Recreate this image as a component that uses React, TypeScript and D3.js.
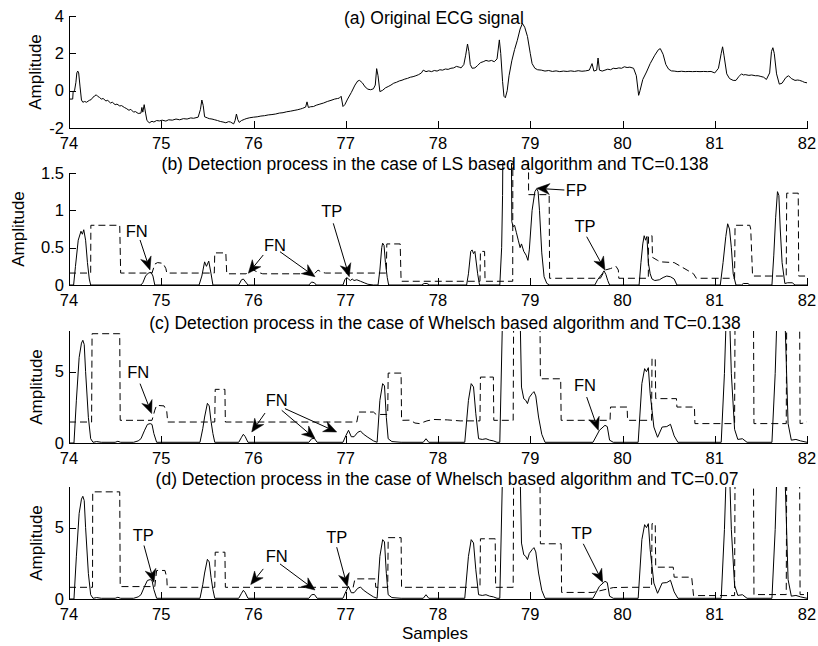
import React from "react";
import * as d3 from "d3";

type P = [number, number];

// x tick values and y tick values per panel
const xTicks = [74, 75, 76, 77, 78, 79, 80, 81, 82];
const yTicksA = [-2, 0, 2, 4];
const yTicksB = [0, 0.5, 1, 1.5];
const yTicksCD = [0, 5];

// (a) original ECG signal
const ecgSignal: P[] = [
  [74.0, -0.45], [74.04, -0.45], [74.045, -0.05], [74.06, 0.0], [74.075, 0.45], [74.085, 0.95], [74.095, 1.05], [74.105, 0.95], [74.12, 0.2],
  [74.135, -0.5], [74.15, -0.62], [74.17, -0.58], [74.19, -0.62], [74.22, -0.52], [74.24, -0.48], [74.26, -0.35], [74.28, -0.28], [74.295, -0.22],
  [74.31, -0.3], [74.33, -0.36], [74.35, -0.45], [74.37, -0.42], [74.40, -0.55], [74.42, -0.52], [74.45, -0.66], [74.47, -0.62], [74.50, -0.75],
  [74.52, -0.72], [74.55, -0.82], [74.57, -0.8], [74.60, -0.9], [74.62, -0.95], [74.65, -1.05], [74.67, -1.0], [74.70, -1.15], [74.72, -1.12],
  [74.75, -1.22], [74.78, -1.2], [74.79, -0.9], [74.80, -1.15], [74.815, -0.75], [74.83, -1.2], [74.845, -1.6], [74.87, -1.72], [74.90, -1.64],
  [74.92, -1.68], [74.95, -1.6], [74.98, -1.62], [75.01, -1.58], [75.05, -1.63], [75.08, -1.56], [75.12, -1.58], [75.16, -1.52], [75.20, -1.56],
  [75.24, -1.5], [75.28, -1.52], [75.32, -1.46], [75.35, -1.48], [75.40, -1.42], [75.425, -1.0], [75.44, -0.5], [75.455, -0.8], [75.47, -1.4],
  [75.50, -1.46], [75.52, -1.5], [75.55, -1.52], [75.58, -1.56], [75.61, -1.6], [75.64, -1.65], [75.67, -1.68], [75.70, -1.72], [75.73, -1.66],
  [75.75, -1.68], [75.785, -1.78], [75.80, -1.6], [75.815, -1.25], [75.83, -1.55], [75.845, -1.7], [75.87, -1.6], [75.90, -1.54], [75.92, -1.5],
  [75.96, -1.45], [76.0, -1.42], [76.04, -1.4], [76.08, -1.36], [76.12, -1.34], [76.16, -1.3], [76.20, -1.28], [76.24, -1.25], [76.28, -1.2],
  [76.32, -1.18], [76.36, -1.13], [76.40, -1.1], [76.44, -1.06], [76.48, -1.02], [76.51, -0.98], [76.53, -0.95], [76.565, -0.88], [76.58, -0.6],
  [76.595, -0.9], [76.62, -0.86], [76.65, -0.85], [76.68, -0.78], [76.72, -0.72], [76.76, -0.66], [76.80, -0.58], [76.84, -0.52], [76.88, -0.45],
  [76.91, -0.42], [76.93, -0.4], [76.95, -0.3], [76.97, -0.85], [76.99, -0.75], [77.02, -0.45], [77.06, -0.1], [77.10, 0.3], [77.13, 0.52],
  [77.15, 0.55], [77.18, 0.42], [77.21, 0.2], [77.24, 0.08], [77.27, 0.05], [77.30, 0.1], [77.32, 0.3], [77.335, 1.18], [77.35, 0.8],
  [77.37, -0.05], [77.40, 0.02], [77.43, 0.15], [77.46, 0.22], [77.49, 0.3], [77.52, 0.4], [77.55, 0.45], [77.58, 0.52], [77.61, 0.56],
  [77.64, 0.62], [77.67, 0.66], [77.70, 0.72], [77.73, 0.75], [77.76, 0.8], [77.79, 0.86], [77.82, 0.95], [77.84, 1.1], [77.87, 1.02],
  [77.90, 1.06], [77.93, 1.02], [77.96, 1.08], [77.99, 1.05], [78.02, 1.12], [78.05, 1.1], [78.08, 1.16], [78.11, 1.14], [78.14, 1.2],
  [78.17, 1.22], [78.20, 1.3], [78.23, 1.26], [78.25, 1.22], [78.28, 1.4], [78.30, 1.9], [78.32, 2.5], [78.335, 2.1], [78.35, 1.4],
  [78.37, 1.2], [78.40, 1.22], [78.43, 1.35], [78.46, 1.5], [78.49, 1.55], [78.52, 1.62], [78.55, 1.58], [78.58, 1.62], [78.61, 1.55],
  [78.64, 1.7], [78.665, 2.72], [78.68, 2.0], [78.70, 0.5], [78.715, -0.3], [78.73, -0.38], [78.75, 0.0], [78.77, 0.8], [78.80, 1.6],
  [78.83, 2.2], [78.86, 2.7], [78.89, 3.3], [78.915, 3.6], [78.94, 3.4], [78.97, 2.9], [79.0, 2.0], [79.02, 1.45], [79.05, 1.2],
  [79.08, 1.12], [79.12, 1.1], [79.16, 1.05], [79.20, 1.08], [79.24, 1.03], [79.28, 1.06], [79.32, 1.02], [79.36, 1.05], [79.40, 1.03],
  [79.44, 1.06], [79.48, 1.03], [79.52, 1.07], [79.56, 1.04], [79.60, 1.06], [79.64, 1.1], [79.67, 1.45], [79.69, 1.05], [79.72, 1.1],
  [79.735, 1.75], [79.75, 1.1], [79.78, 1.05], [79.81, 1.1], [79.84, 1.15], [79.87, 1.12], [79.90, 1.2], [79.93, 1.18], [79.96, 1.22],
  [79.99, 1.2], [80.02, 1.28], [80.05, 1.24], [80.08, 1.26], [80.12, 1.2], [80.15, 0.8], [80.175, -0.25], [80.19, 0.0], [80.22, 0.6],
  [80.26, 1.0], [80.30, 1.45], [80.35, 1.9], [80.39, 2.2], [80.41, 2.25], [80.44, 1.95], [80.47, 1.4], [80.50, 1.15], [80.53, 1.06],
  [80.56, 1.05], [80.60, 1.02], [80.64, 1.04], [80.68, 1.02], [80.72, 1.03], [80.76, 1.02], [80.80, 1.03], [80.84, 1.02], [80.88, 1.03],
  [80.92, 1.02], [80.96, 1.03], [81.0, 0.95], [81.04, 1.2], [81.07, 2.0], [81.085, 2.35], [81.10, 1.9], [81.13, 0.9], [81.16, 0.65],
  [81.20, 0.55], [81.23, 0.55], [81.26, 0.75], [81.29, 0.9], [81.31, 0.84], [81.33, 0.86], [81.37, 0.82], [81.40, 0.84], [81.44, 0.8],
  [81.47, 0.8], [81.50, 0.76], [81.53, 0.72], [81.56, 0.6], [81.595, 0.95], [81.615, 2.1], [81.63, 2.3], [81.645, 2.0], [81.67, 0.9],
  [81.70, 0.35], [81.73, 0.4], [81.77, 0.7], [81.80, 0.8], [81.83, 0.65], [81.87, 0.55], [81.90, 0.57], [81.92, 0.55], [81.95, 0.5],
  [81.97, 0.45], [82.0, 0.42],
];

// (b) LS based detection signal
const lsSignal: P[] = [
  [74.0, 0], [74.05, 0], [74.07, 0.25], [74.10, 0.6], [74.13, 0.72], [74.145, 0.68], [74.16, 0.74], [74.18, 0.6], [74.20, 0.3],
  [74.22, 0.08], [74.235, 0], [74.78, 0], [74.80, 0.03], [74.83, 0.12], [74.86, 0.16], [74.89, 0.17], [74.91, 0.12], [74.93, 0],
  [75.41, 0], [75.44, 0.12], [75.47, 0.31], [75.49, 0.25], [75.515, 0.32], [75.54, 0.15], [75.56, 0], [75.84, 0], [75.87, 0.07],
  [75.89, 0.08], [75.915, 0.04], [75.94, 0], [76.60, 0], [76.63, 0.04], [76.66, 0.03], [76.68, 0], [76.97, 0], [76.99, 0.07],
  [77.01, 0.1], [77.03, 0.08], [77.05, 0.06], [77.07, 0.08], [77.09, 0.06], [77.12, 0.07], [77.16, 0.05], [77.20, 0.03], [77.24, 0.01],
  [77.30, 0], [77.35, 0], [77.37, 0.2], [77.39, 0.5], [77.40, 0.56], [77.415, 0.53], [77.43, 0.3], [77.45, 0.1], [77.465, 0],
  [77.82, 0], [77.85, 0.02], [77.88, 0.02], [77.91, 0], [78.31, 0], [78.33, 0.15], [78.355, 0.45], [78.37, 0.47], [78.385, 0.42],
  [78.40, 0.45], [78.43, 0.15], [78.45, 0], [78.67, 0], [78.69, 0.5], [78.70, 1.2], [78.71, 3], [78.79, 3], [78.80, 0.85],
  [78.815, 0.78], [78.83, 0.8], [78.85, 0.7], [78.87, 0.6], [78.89, 0.5], [78.905, 0.55], [78.93, 0.45], [78.955, 0.4], [78.975, 0.33],
  [78.99, 0.47], [79.02, 1.0], [79.05, 1.25], [79.07, 1.29], [79.085, 1.25], [79.10, 1.0], [79.125, 0.43], [79.15, 0.11], [79.18, 0.02],
  [79.21, 0], [79.70, 0], [79.73, 0.07], [79.76, 0.12], [79.78, 0.15], [79.80, 0.19], [79.82, 0.14], [79.84, 0.06], [79.86, 0],
  [80.18, 0], [80.20, 0.3], [80.22, 0.55], [80.235, 0.66], [80.25, 0.6], [80.265, 0.65], [80.28, 0.3], [80.30, 0.15], [80.32, 0.08],
  [80.35, 0.06], [80.40, 0.07], [80.44, 0.1], [80.48, 0.12], [80.52, 0.11], [80.56, 0.08], [80.59, 0], [81.06, 0], [81.09, 0.3],
  [81.12, 0.65], [81.14, 0.82], [81.16, 0.75], [81.18, 0.5], [81.20, 0.15], [81.23, 0], [81.29, 0], [81.31, 0.02], [81.36, 0.02],
  [81.38, 0], [81.62, 0], [81.64, 0.4], [81.66, 0.9], [81.68, 1.25], [81.695, 1.2], [81.71, 0.75], [81.73, 0.3], [81.76, 0.02],
  [81.79, 0.03], [81.84, 0.03], [81.87, 0], [82.0, 0],
];

// (b) LS threshold
const lsThreshold: P[] = [
  [74.0, 0.16], [74.235, 0.16], [74.237, 0.8], [74.55, 0.8], [74.56, 0.16], [74.90, 0.16], [74.93, 0.28], [74.96, 0.3], [75.02, 0.29],
  [75.05, 0.22], [75.06, 0.16], [75.575, 0.16], [75.58, 0.43], [75.70, 0.43], [75.71, 0.15], [75.92, 0.15], [75.96, 0.19], [76.0, 0.2],
  [76.05, 0.17], [76.10, 0.15], [76.66, 0.15], [76.70, 0.2], [76.74, 0.17], [76.78, 0.16], [77.44, 0.16], [77.445, 0.55], [77.59, 0.55],
  [77.60, 0.05], [78.455, 0.05], [78.46, 0.45], [78.505, 0.45], [78.51, 0.05], [78.81, 0.05], [78.812, 3], [78.98, 3], [78.982, 1.21],
  [79.205, 1.21], [79.21, 0.09], [79.76, 0.09], [79.81, 0.2], [79.87, 0.22], [79.93, 0.25], [79.955, 0.2], [79.96, 0.09], [80.28, 0.09],
  [80.282, 0.66], [80.32, 0.66], [80.325, 0.37], [80.38, 0.33], [80.41, 0.31], [80.56, 0.3], [80.63, 0.25], [80.70, 0.2], [80.77, 0.15],
  [80.80, 0.09], [81.215, 0.09], [81.22, 0.8], [81.38, 0.8], [81.39, 0.75], [81.41, 0.12], [81.775, 0.12], [81.78, 1.23], [81.905, 1.23],
  [81.91, 0.12], [82.0, 0.12],
];

// (c)/(d) Whelsch based detection signal
const whSignal: P[] = [
  [74.0, 0], [74.054, 0], [74.08, 3.0], [74.11, 6.0], [74.135, 7.0], [74.15, 7.2], [74.165, 6.9], [74.18, 5.0], [74.21, 1.8],
  [74.235, 0.3], [74.26, 0.05], [74.30, 0.1], [74.35, 0.05], [74.50, 0.05], [74.53, 0.12], [74.56, 0.05], [74.70, 0.05], [74.75, 0.15],
  [74.78, 0.3], [74.82, 0.9], [74.85, 1.3], [74.88, 1.36], [74.90, 1.3], [74.92, 0.66], [74.95, 0.05], [75.42, 0.05], [75.45, 1.0],
  [75.47, 1.82], [75.50, 2.78], [75.52, 2.6], [75.54, 1.5], [75.56, 0.66], [75.58, 0.05], [75.84, 0.05], [75.87, 0.4], [75.89, 0.61],
  [75.91, 0.45], [75.94, 0.05], [76.60, 0.05], [76.63, 0.3], [76.66, 0.32], [76.69, 0.05], [76.97, 0.05], [77.0, 0.5], [77.03, 0.89],
  [77.06, 0.44], [77.09, 0.44], [77.13, 0.75], [77.16, 0.84], [77.19, 0.63], [77.24, 0.4], [77.30, 0.15], [77.34, 0.05], [77.37, 2.99],
  [77.40, 4.16], [77.42, 4.0], [77.44, 1.8], [77.46, 0.3], [77.50, 0.1], [77.60, 0.05], [77.84, 0.05], [77.87, 0.3], [77.90, 0.05],
  [78.29, 0.05], [78.33, 2.99], [78.36, 4.16], [78.385, 3.93], [78.41, 2.05], [78.44, 0.3], [78.48, 0.25], [78.52, 0.3], [78.56, 0.2],
  [78.60, 0.15], [78.64, 0.05], [78.67, 0.05], [78.70, 9], [78.89, 9], [78.905, 3.92], [78.93, 3.1], [78.95, 3.0], [78.97, 2.76],
  [78.99, 3.2], [79.02, 3.46], [79.04, 3.6], [79.06, 3.3], [79.09, 1.82], [79.125, 0.61], [79.16, 0.05], [79.68, 0.05], [79.75, 0.89],
  [79.81, 1.24], [79.835, 1.15], [79.86, 0.2], [79.90, 0.05], [80.17, 0.05], [80.21, 4.16], [80.24, 5.21], [80.26, 5.0], [80.28, 5.28],
  [80.30, 3.46], [80.32, 2.29], [80.34, 1.12], [80.38, 0.4], [80.43, 1.12], [80.48, 1.15], [80.52, 1.31], [80.56, 0.5], [80.60, 0.05],
  [81.07, 0.05], [81.105, 4.86], [81.125, 9], [81.16, 9], [81.18, 4.86], [81.215, 0.96], [81.25, 0.25], [81.30, 0.3], [81.35, 0.05],
  [81.62, 0.05], [81.655, 4.86], [81.675, 9], [81.76, 9], [81.795, 1.36], [81.83, 0.2], [81.88, 0.25], [81.93, 0.15], [82.0, 0.05],
];

// (c) Whelsch threshold, TC=0.138
const whThresholdC: P[] = [
  [74.0, 1.47], [74.245, 1.47], [74.25, 7.66], [74.55, 7.66], [74.555, 1.59], [74.90, 1.59], [74.93, 2.3], [74.95, 2.64], [75.03, 2.6],
  [75.06, 2.2], [75.07, 1.47], [75.58, 1.47], [75.585, 3.76], [75.69, 3.76], [75.695, 1.47], [77.12, 1.47], [77.14, 2.17], [77.30, 2.17],
  [77.33, 2.0], [77.455, 2.0], [77.46, 4.9], [77.60, 4.9], [77.605, 1.59], [77.70, 1.6], [77.75, 1.4], [77.80, 1.36], [77.88, 1.55],
  [77.95, 1.65], [78.10, 1.62], [78.24, 1.55], [78.455, 1.55], [78.46, 4.62], [78.60, 4.62], [78.605, 1.59], [78.815, 1.59], [78.82, 9],
  [79.105, 9], [79.11, 4.5], [79.33, 4.5], [79.335, 1.59], [79.865, 1.59], [79.87, 2.52], [80.05, 2.52], [80.055, 1.59], [80.315, 1.59],
  [80.32, 5.91], [80.355, 5.91], [80.36, 3.11], [80.585, 3.11], [80.59, 2.52], [80.78, 2.52], [80.785, 1.36], [81.215, 1.36], [81.22, 9],
  [81.42, 9], [81.425, 1.36], [81.775, 1.36], [81.78, 9], [81.92, 9], [81.925, 1.36], [81.97, 1.4], [82.0, 1.5],
];

// (d) Whelsch threshold, TC=0.07
const whThresholdD: P[] = [
  [74.0, 0.82], [74.255, 0.82], [74.257, 7.51], [74.55, 7.51], [74.555, 0.87], [74.93, 0.87], [74.95, 2.0], [75.04, 2.0], [75.06, 1.5],
  [75.065, 0.82], [75.58, 0.82], [75.585, 3.28], [75.69, 3.28], [75.695, 0.82], [77.08, 0.82], [77.10, 1.41], [77.32, 1.41], [77.325, 0.82],
  [77.455, 0.82], [77.46, 4.3], [77.60, 4.3], [77.605, 0.82], [78.455, 0.82], [78.46, 4.22], [78.62, 4.22], [78.625, 0.82], [78.815, 0.82],
  [78.82, 9], [79.105, 9], [79.11, 3.87], [79.335, 3.87], [79.34, 0.46], [79.68, 0.46], [79.90, 0.8], [80.05, 0.82], [80.315, 0.82],
  [80.32, 5.28], [80.355, 5.28], [80.36, 2.23], [80.55, 2.23], [80.56, 1.53], [80.75, 1.53], [80.77, 0.24], [81.215, 0.24], [81.22, 9],
  [81.42, 9], [81.425, 0.31], [81.775, 0.31], [81.78, 9], [81.92, 9], [81.925, 0.31], [82.0, 0.31],
];

type Ann = { label: string; at: P; arrows: [P, P][] };

const annotationsB: Ann[] = [
  { label: "FN", at: [74.734, 0.714], arrows: [[[74.77, 0.603], [74.878, 0.201]]] },
  { label: "FN", at: [76.233, 0.536], arrows: [[[76.106, 0.402], [75.944, 0.157]], [[76.287, 0.446], [76.667, 0.111]]] },
  { label: "TP", at: [76.848, 0.982], arrows: [[[76.865, 0.826], [77.038, 0.111]]] },
  { label: "FP", at: [79.5, 1.272], arrows: [[[79.37, 1.272], [79.07, 1.295]]] },
  { label: "TP", at: [79.593, 0.781], arrows: [[[79.612, 0.647], [79.81, 0.201]]] },
];
const annotationsC: Ann[] = [
  { label: "FN", at: [74.751, 4.97], arrows: [[[74.77, 4.16], [74.896, 2.06]]] },
  { label: "FN", at: [76.251, 2.99], arrows: [[[76.125, 2.1], [75.981, 0.77]], [[76.306, 2.29], [76.667, 0.31]], [[76.341, 2.41], [76.902, 0.77]]] },
  { label: "FN", at: [79.593, 4.04], arrows: [[[79.612, 3.22], [79.738, 0.89]]] },
];
const annotationsD: Ann[] = [
  { label: "TP", at: [74.805, 4.46], arrows: [[[74.813, 3.75], [74.921, 1.17]]] },
  { label: "FN", at: [76.251, 2.98], arrows: [[[76.106, 2.11], [75.97, 1.01]], [[76.287, 2.46], [76.667, 0.63]]] },
  { label: "TP", at: [76.902, 4.34], arrows: [[[76.902, 3.63], [77.017, 0.87]]] },
  { label: "TP", at: [79.558, 4.58], arrows: [[[79.575, 3.87], [79.785, 1.17]]] },
];

const FONT = "'Liberation Sans', Arial, Helvetica, sans-serif";
const FS_TICK = 16.5;
const FS_TITLE = 17.5;
const FS_LABEL = 17;
const FS_ANN = 16.5;
const X0 = 69;
const X1 = 807;

const x = d3.scaleLinear().domain([74, 82]).range([X0, X1]);

type PanelSpec = {
  id: string;
  top: number;
  bottom: number;
  domain: [number, number];
  yTicks: number[];
  title: string;
  titleX: number;
  titleY: number;
  ylabelX: number;
  clipTop: number;
  solid: P[];
  dashed?: P[];
  ann: Ann[];
};

const panels: PanelSpec[] = [
  { id: "a", top: 16, bottom: 128, domain: [-2, 4], yTicks: yTicksA, title: "(a) Original ECG signal", titleX: 434, titleY: 24, ylabelX: 41, clipTop: 0, solid: ecgSignal, ann: [] },
  { id: "b", top: 173, bottom: 285, domain: [0, 1.5], yTicks: yTicksB, title: "(b) Detection process in the case of LS based algorithm and TC=0.138", titleX: 435, titleY: 170, ylabelX: 24, clipTop: 163, solid: lsSignal, dashed: lsThreshold, ann: annotationsB },
  { id: "c", top: 331, bottom: 443, domain: [0, 7.85], yTicks: yTicksCD, title: "(c) Detection process in the case of Whelsch based algorithm and TC=0.138", titleX: 445, titleY: 329, ylabelX: 42, clipTop: 331, solid: whSignal, dashed: whThresholdC, ann: annotationsC },
  { id: "d", top: 487, bottom: 599, domain: [0, 7.85], yTicks: yTicksCD, title: "(d) Detection process in the case of Whelsch based algorithm and TC=0.07", titleX: 447, titleY: 485, ylabelX: 42, clipTop: 487, solid: whSignal, dashed: whThresholdD, ann: annotationsD },
];

function arrowHead(from: P, tip: P) {
  const dx = tip[0] - from[0];
  const dy = tip[1] - from[1];
  const len = Math.hypot(dx, dy) || 1;
  const ux = dx / len, uy = dy / len;
  const nx = -uy, ny = ux;
  const L = 13, Wd = 11, notch = 9;
  const bx = tip[0] - ux * L, by = tip[1] - uy * L;
  const p1: P = [bx + nx * Wd / 2, by + ny * Wd / 2];
  const p2: P = [tip[0] - ux * notch, tip[1] - uy * notch];
  const p3: P = [bx - nx * Wd / 2, by - ny * Wd / 2];
  return { path: `M${tip[0]},${tip[1]}L${p1[0]},${p1[1]}L${p2[0]},${p2[1]}L${p3[0]},${p3[1]}Z`, base: p2 };
}

function Panel({ p }: { p: PanelSpec }) {
  const y = d3.scaleLinear().domain(p.domain).range([p.bottom, p.top]);
  const line = d3.line<P>().x((d) => x(d[0])).y((d) => y(d[1]));
  const clipId = `clip-${p.id}`;
  const cTop = p.id === "a" ? 0 : p.clipTop;
  return (
    <g>
      <defs>
        <clipPath id={clipId}>
          <rect x={X0} y={cTop} width={X1 - X0 + 1} height={p.bottom - cTop + 1} />
        </clipPath>
      </defs>
      <text x={p.titleX} y={p.titleY} textAnchor="middle" fontSize={FS_TITLE} fontFamily={FONT}>{p.title}</text>
      <g clipPath={`url(#${clipId})`}>
        {p.dashed && (
          <path d={line(p.dashed) || ""} fill="none" stroke="#000" strokeWidth={1} strokeDasharray="7,4" />
        )}
        <path d={line(p.solid) || ""} fill="none" stroke="#000" strokeWidth={1} strokeLinejoin="round" />
      </g>
      <g shapeRendering="crispEdges" stroke="#000" strokeWidth={1}>
        <line x1={X0 + 0.5} x2={X0 + 0.5} y1={p.top} y2={p.bottom + 0.5} />
        <line x1={X0} x2={X1 + 0.5} y1={p.bottom + 0.5} y2={p.bottom + 0.5} />
        {xTicks.map((t) => (
          <line key={t} x1={Math.round(x(t)) + 0.5} x2={Math.round(x(t)) + 0.5} y1={p.bottom} y2={p.bottom - 7} />
        ))}
        {p.yTicks.map((t) => (
          <line key={t} x1={X0} x2={X0 + 7} y1={Math.round(y(t)) + 0.5} y2={Math.round(y(t)) + 0.5} />
        ))}
      </g>
      <g fontSize={FS_TICK} fontFamily={FONT} fill="#000">
        {xTicks.map((t) => (
          <text key={t} x={x(t)} y={p.bottom + 20.5} textAnchor="middle">{String(t)}</text>
        ))}
        {p.yTicks.map((t) => (
          <text key={t} x={64} y={y(t)} dy="0.35em" textAnchor="end">{String(t)}</text>
        ))}
      </g>
      <text transform={`translate(${p.ylabelX},${(p.top + p.bottom) / 2}) rotate(-90)`} textAnchor="middle" fontSize={FS_LABEL} fontFamily={FONT}>Amplitude</text>
      {p.ann.map((a, i) => (
        <g key={i}>
          <text x={x(a.at[0])} y={y(a.at[1])} dy="0.35em" textAnchor="middle" fontSize={FS_ANN} fontFamily={FONT}>{a.label}</text>
          {a.arrows.map((ar, j) => {
            const from: P = [x(ar[0][0]), y(ar[0][1])];
            const tip: P = [x(ar[1][0]), y(ar[1][1])];
            const h = arrowHead(from, tip);
            return (
              <g key={j}>
                <line x1={from[0]} y1={from[1]} x2={h.base[0]} y2={h.base[1]} stroke="#000" strokeWidth={1} />
                <path d={h.path} fill="#000" stroke="#000" strokeWidth={0.5} />
              </g>
            );
          })}
        </g>
      ))}
    </g>
  );
}

export default function App() {
  return (
    <svg width={818} height={646} viewBox="0 0 818 646" style={{ position: "absolute", left: 0, top: 0, background: "#fff" }}>
      <rect x={0} y={0} width={818} height={646} fill="#fff" />
      {panels.map((p) => (
        <Panel key={p.id} p={p} />
      ))}
      <text x={435} y={639} textAnchor="middle" fontSize={FS_LABEL} fontFamily={FONT}>Samples</text>
    </svg>
  );
}
